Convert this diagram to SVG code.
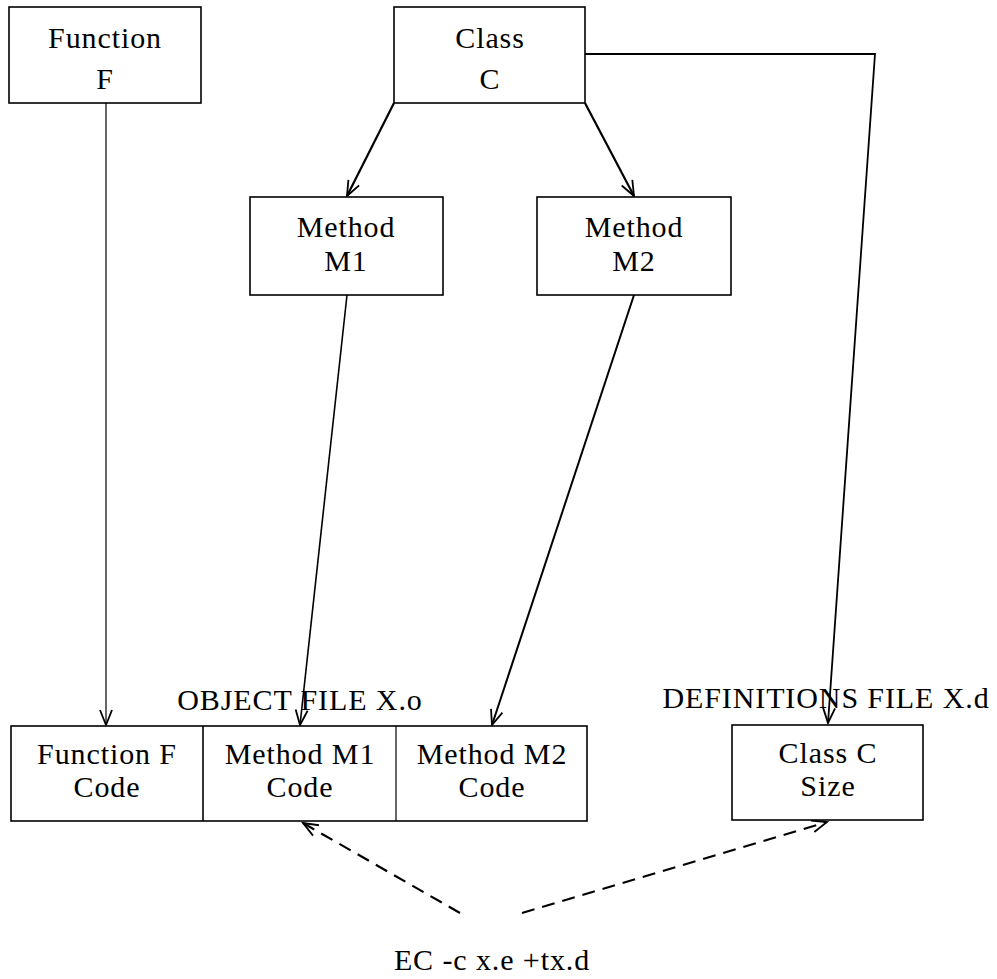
<svg xmlns="http://www.w3.org/2000/svg" width="997" height="979" viewBox="0 0 997 979">
<defs>
<style>
.box{fill:#fff;stroke:#000;stroke-width:1.6}
.t{font-family:"Liberation Serif","Times New Roman",serif;font-size:30px;letter-spacing:0.9px;fill:#000;text-anchor:middle}
.c{fill:none;stroke:#000}
.dash{stroke-dasharray:13 8;stroke-width:2.2}
</style>
<marker id="ah" markerUnits="userSpaceOnUse" viewBox="-17 -8 19 16" markerWidth="19" markerHeight="16" refX="0" refY="0" orient="auto">
<path d="M-15,-6 L0,0 L-15,6" fill="none" stroke="#000" stroke-width="1.8"/>
</marker>
</defs>
<rect width="997" height="979" fill="#fff"/>
<g id="connectors">
<line class="c" x1="106" y1="103" x2="106" y2="725" stroke-width="1.2" marker-end="url(#ah)"/>
<line class="c" x1="394" y1="103" x2="347" y2="196" stroke-width="2.2" marker-end="url(#ah)"/>
<line class="c" x1="585" y1="103" x2="634" y2="196" stroke-width="2.2" marker-end="url(#ah)"/>
<polyline class="c" points="585,54 875,54 828,723" stroke-width="1.8" marker-end="url(#ah)"/>
<line class="c" x1="347" y1="295" x2="300" y2="725" stroke-width="1.6" marker-end="url(#ah)"/>
<line class="c" x1="634" y1="295" x2="492" y2="725" stroke-width="2" marker-end="url(#ah)"/>
<line class="c dash" x1="460" y1="913" x2="303" y2="823" marker-end="url(#ah)"/>
<line class="c dash" x1="522" y1="913" x2="827" y2="822" marker-end="url(#ah)"/>
</g>
<g id="function-f">
<rect class="box" x="9" y="7" width="192" height="96"/>
<text class="t" x="105" y="48">Function</text>
<text class="t" x="105" y="89">F</text>
</g>
<g id="class-c">
<rect class="box" x="394" y="7" width="191" height="96"/>
<text class="t" x="490" y="48">Class</text>
<text class="t" x="490" y="89">C</text>
</g>
<g id="method-m1">
<rect class="box" x="250" y="197" width="193" height="98"/>
<text class="t" x="346" y="237">Method</text>
<text class="t" x="346" y="271">M1</text>
</g>
<g id="method-m2">
<rect class="box" x="537" y="197" width="194" height="98"/>
<text class="t" x="634" y="237">Method</text>
<text class="t" x="634" y="271">M2</text>
</g>
<g id="object-file">
<text class="t" x="300" y="710">OBJECT FILE X.o</text>
<rect class="box" x="11" y="726" width="576" height="95"/>
<line x1="203" y1="726" x2="203" y2="821" stroke="#000" stroke-width="1.6"/>
<line x1="396" y1="726" x2="396" y2="821" stroke="#000" stroke-width="1.2"/>
</g>
<g id="function-f-code">
<text class="t" x="107" y="764">Function F</text>
<text class="t" x="107" y="797">Code</text>
</g>
<g id="method-m1-code">
<text class="t" x="300" y="764">Method M1</text>
<text class="t" x="300" y="797">Code</text>
</g>
<g id="method-m2-code">
<text class="t" x="492" y="764">Method M2</text>
<text class="t" x="492" y="797">Code</text>
</g>
<g id="definitions-file">
<text class="t" x="826" y="708">DEFINITIONS FILE X.d</text>
<rect class="box" x="732" y="725" width="191" height="95"/>
<text class="t" x="828" y="763">Class C</text>
<text class="t" x="828" y="796">Size</text>
</g>
<g id="command">
<text class="t" x="492" y="970">EC -c x.e +tx.d</text>
</g>
</svg>
